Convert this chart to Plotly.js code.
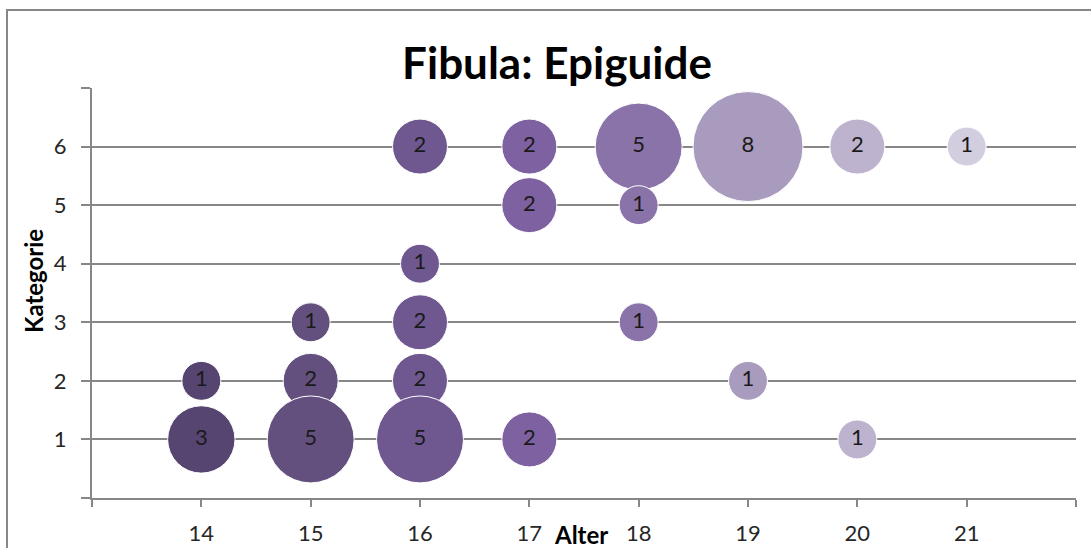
<!DOCTYPE html>
<html>
<head>
<meta charset="utf-8">
<script src="https://cdn.plot.ly/plotly-3.0.1.min.js"></script>
<style>
  html, body { margin: 0; padding: 0; background: #ffffff; }
  #chart { width: 1091px; height: 548px; }
</style>
</head>
<body>
<div id="chart"></div>
<script>
// Fibula: Epiguide — count of cases per age (Alter) and category (Kategorie)
const alter     = [14, 14, 15, 15, 15, 16, 16, 16, 16, 16, 17, 17, 17, 18, 18, 18, 19, 19, 20, 20, 21];
const kategorie = [ 2,  1,  3,  2,  1,  6,  4,  3,  2,  1,  6,  5,  1,  6,  5,  3,  6,  2,  6,  1,  6];
const anzahl    = [ 1,  3,  1,  2,  5,  2,  1,  2,  2,  5,  2,  2,  2,  5,  1,  1,  8,  1,  2,  1,  1];

const ages = [14, 15, 16, 17, 18, 19, 20, 21];
const xTickVals  = [13, 14, 15, 16, 17, 18, 19, 20, 21, 22];
const xTickText  = ['', '14', '15', '16', '17', '18', '19', '20', '21', ''];
const yTickVals  = [0, 1, 2, 3, 4, 5, 6, 7];
const yTickText  = ['', '1', '2', '3', '4', '5', '6', ''];

const titleText = 'Fibula: Epiguide';
const xTitle = 'Alter';
const yTitle = 'Kategorie';

// purple shades, dark for the youngest age to light for the oldest
const ageColors = ['#574571', '#64507e', '#6f5890', '#7d61a0', '#8a73a9', '#a99bbe', '#bdb3cf', '#d3cde0'];

const FONT = 'Lato, "Open Sans", sans-serif';
const GRID = '#878787';

// plot area in pixels
const W = 1091, H = 548;
const L = 92, R = 15, T = 88, B = 50;
const pw = W - L - R, ph = H - T - B;
const px2x = p => (p - L) / pw;
const py2y = p => (H - B - p) / ph;

// bubble area proportional to the count; the largest (8) is ~110 px across
const BUBBLE_REF = 2 * 8 / (110 * 110);

const traces = ages.map((age, i) => {
  const idx = alter.map((a, k) => a === age ? k : -1).filter(k => k >= 0);
  return {
    type: 'scatter',
    mode: 'markers+text',
    name: String(age),
    x: idx.map(k => alter[k]),
    y: idx.map(k => kategorie[k]),
    text: idx.map(k => String(anzahl[k])),
    textposition: 'middle center',
    textfont: { family: FONT, size: 22, color: '#1a1a1a' },
    marker: {
      size: idx.map(k => anzahl[k]),
      sizemode: 'area',
      sizeref: BUBBLE_REF,
      color: ageColors[i],
      opacity: 1,
      line: { color: '#ffffff', width: 1 }
    },
    hoverinfo: 'x+y+text',
    cliponaxis: false,
    showlegend: false
  };
});

const layout = {
  width: W,
  height: H,
  margin: { l: L, r: R, t: T, b: B, pad: 0 },
  paper_bgcolor: '#ffffff',
  plot_bgcolor: '#ffffff',
  font: { family: FONT, color: '#262626' },
  title: {
    text: '<b>' + titleText + '</b>',
    font: { family: FONT, size: 44, color: '#000000' },
    x: px2x(557), xref: 'paper', xanchor: 'center',
    y: 1 - 64 / H, yref: 'container', yanchor: 'middle'
  },
  xaxis: {
    range: [13, 22],
    tickmode: 'array',
    tickvals: xTickVals,
    ticktext: xTickText,
    showgrid: false,
    zeroline: false,
    showline: true,
    linecolor: GRID,
    linewidth: 2,
    ticks: 'outside',
    ticklen: 7,
    tickwidth: 2,
    tickcolor: GRID,
    ticklabelstandoff: 8,
    tickfont: { family: FONT, size: 22, color: '#262626' },
    fixedrange: true
  },
  yaxis: {
    range: [0, 7],
    tickmode: 'array',
    tickvals: yTickVals,
    ticktext: yTickText,
    showgrid: true,
    gridcolor: GRID,
    gridwidth: 2,
    zeroline: false,
    showline: true,
    linecolor: GRID,
    linewidth: 2,
    ticks: 'outside',
    ticklen: 9,
    tickwidth: 2,
    tickcolor: GRID,
    ticklabelstandoff: 10,
    tickfont: { family: FONT, size: 22, color: '#262626' },
    fixedrange: true
  },
  annotations: [
    {
      text: '<b>' + xTitle + '</b>',
      xref: 'paper', yref: 'paper',
      x: px2x(581), y: py2y(534),
      xanchor: 'center', yanchor: 'middle',
      showarrow: false,
      font: { family: FONT, size: 24, color: '#000000' }
    },
    {
      text: '<b>' + yTitle + '</b>',
      xref: 'paper', yref: 'paper',
      x: px2x(33), y: py2y(281),
      xanchor: 'center', yanchor: 'middle',
      textangle: -90,
      showarrow: false,
      font: { family: FONT, size: 24, color: '#000000' }
    }
  ],
  shapes: [
    {
      type: 'rect', xref: 'paper', yref: 'paper', layer: 'below',
      x0: px2x(7), x1: px2x(1100), y0: py2y(600), y1: py2y(10),
      line: { color: GRID, width: 2 }, fillcolor: 'rgba(0,0,0,0)'
    }
  ]
};

Plotly.newPlot('chart', traces, layout, { displayModeBar: false, staticPlot: true });
</script>
</body>
</html>
